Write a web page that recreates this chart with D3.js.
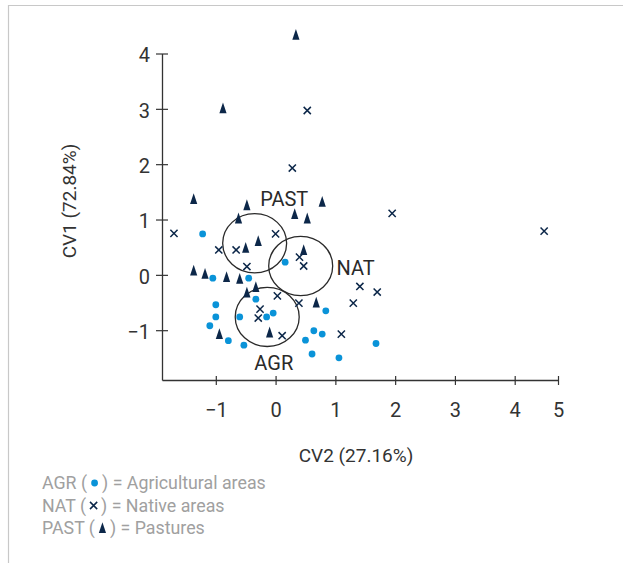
<!DOCTYPE html>
<html>
<head>
<meta charset="utf-8">
<script src="https://cdn.jsdelivr.net/npm/d3@7"></script>
<style>
  body { margin: 0; background: #fff; }
  svg { display: block; font-family: Roboto, "Open Sans", sans-serif; }
</style>
</head>
<body>
<svg id="chart" width="623" height="563"></svg>
<script>
// scores: CV2 on x, CV1 on y
const agrX = [-1.22, 0.16, -1.05, -0.45, -0.33, -1.00, -1.00, -0.60, -0.15, -0.04,
              -1.10, -0.79, -0.53, 0.84, 0.64, 0.78, 0.50, 0.61, 1.06, 1.68];
const agrY = [0.74, 0.23, -0.06, -0.06, -0.44, -0.54, -0.76, -0.76, -0.76, -0.69,
              -0.92, -1.19, -1.27, -0.65, -1.01, -1.07, -1.18, -1.43, -1.50, -1.24];

const natX = [-1.70, -0.95, -0.66, 0.00, -0.48, 0.40, 0.47, 0.03, 0.39, -0.26,
              -0.29, 0.11, 1.10, 1.41, 1.70, 1.30, 1.95, 0.53, 0.28, 4.68];
const natY = [0.75, 0.45, 0.45, 0.74, 0.15, 0.32, 0.16, -0.38, -0.51, -0.62,
              -0.78, -1.10, -1.07, -0.21, -0.31, -0.51, 1.11, 2.97, 1.93, 0.79];

const pastX = [-1.37, -0.48, 0.78, 0.32, 0.53, -0.62, -0.29, -0.50, 0.47, -1.37,
               -1.18, -0.82, -0.60, -0.33, -0.48, 0.68, -0.10, -0.94, 0.34, -0.88];
const pastY = [1.37, 1.26, 1.32, 1.10, 1.02, 1.02, 0.61, 0.49, 0.45, 0.08,
               0.02, -0.04, -0.07, -0.22, -0.32, -0.50, -1.04, -1.07, 4.34, 3.01];

const xTicks = [-1, 0, 1, 2, 3, 4, 5];
const yTicks = [-1, 0, 1, 2, 3, 4];

// group centroid circles
const groups = ["PAST", "NAT", "AGR"];
const groupCx = [-0.35, 0.42, -0.14];
const groupCy = [0.57, 0.16, -0.76];
const groupR = 0.535;

const legendKeys = ["AGR", "NAT", "PAST"];
const legendNames = ["Agricultural areas", "Native areas", "Pastures"];

const blue = "#0a93d8", navy = "#0c2749";

const svg = d3.select("#chart");

// frame lines
svg.append("line").attr("x1", 8).attr("y1", 5.5).attr("x2", 623).attr("y2", 5.5)
   .attr("stroke", "#c8c8c8").attr("stroke-width", 1.2);
svg.append("line").attr("x1", 8.5).attr("y1", 5).attr("x2", 8.5).attr("y2", 563)
   .attr("stroke", "#c8c8c8").attr("stroke-width", 1.2);

// the last interval on the original x axis is shorter, hence the piecewise scale
const x = d3.scaleLinear().domain([-1.9, 4, 5]).range([162, 514.7, 558]);
const y = d3.scaleLinear().domain([-1.9, 4]).range([380, 53.5]);

const fmt = d3.format("d");
const gx = svg.append("g").attr("transform", "translate(0,380)")
    .call(d3.axisBottom(x).tickValues(xTicks).tickFormat(fmt).tickSizeOuter(0));
const gy = svg.append("g").attr("transform", "translate(162,0)")
    .call(d3.axisLeft(y).tickValues(yTicks).tickFormat(fmt).tickSizeOuter(0));

[gx, gy].forEach(g => {
    g.attr("font-size", null).attr("font-family", null);
    g.select(".domain").attr("stroke", "#333").attr("stroke-width", 1.3);
    g.selectAll(".tick line").attr("stroke", "#333").attr("stroke-width", 1.2);
    g.selectAll(".tick text").attr("fill", "#333").style("font-size", "20px");
});
gx.selectAll(".tick line").attr("y1", -4).attr("y2", 5);
gx.selectAll(".tick text").attr("y", 23);
gy.selectAll(".tick line").attr("x1", -6).attr("x2", 6);
gy.selectAll(".tick text").attr("x", -12).attr("dy", "0.42em");

// axis titles
svg.append("text").attr("x", 356).attr("y", 462).attr("text-anchor", "middle")
   .attr("fill", "#333").style("font-size", "19px").text("CV2 (27.16%)");
svg.append("text").attr("transform", "translate(76,201) rotate(-90)")
   .attr("text-anchor", "middle").attr("fill", "#333").style("font-size", "19px")
   .text("CV1 (72.84%)");

// marker shapes
const crossPath = "M-3.6,-3.6L3.6,3.6M-3.6,3.6L3.6,-3.6";
const triPath = "M0,-5.8L3.6,5L-3.6,5Z";

function drawDot(g, px, py) {
    g.append("circle").attr("cx", px).attr("cy", py).attr("r", 3.4).attr("fill", blue);
}
function drawCross(g, px, py) {
    g.append("path").attr("d", crossPath).attr("transform", `translate(${px},${py})`)
     .attr("fill", "none").attr("stroke", navy).attr("stroke-width", 1.5);
}
function drawTri(g, px, py) {
    g.append("path").attr("d", triPath).attr("transform", `translate(${px},${py})`)
     .attr("fill", navy);
}

// group circles
const gc = svg.append("g");
groups.forEach((name, k) => {
    gc.append("ellipse")
      .attr("cx", x(groupCx[k])).attr("cy", y(groupCy[k]))
      .attr("rx", x(groupCx[k] + groupR) - x(groupCx[k]))
      .attr("ry", y(groupCy[k]) - y(groupCy[k] + groupR))
      .attr("fill", "none").attr("stroke", "#2a2a2a").attr("stroke-width", 1.3);
});

// points
const gp = svg.append("g");
agrX.forEach((v, k) => drawDot(gp, x(v), y(agrY[k])));
natX.forEach((v, k) => drawCross(gp, x(v), y(natY[k])));
pastX.forEach((v, k) => drawTri(gp, x(v), y(pastY[k])));

// group labels
const lab = svg.append("g").attr("fill", "#2a2a2a").style("font-size", "20px");
lab.append("text").attr("x", x(0.145)).attr("y", y(1.245)).attr("text-anchor", "middle").text("PAST");
lab.append("text").attr("x", x(1.02)).attr("y", y(0.0)).attr("text-anchor", "start").text("NAT");
lab.append("text").attr("x", x(-0.03)).attr("y", y(-1.72)).attr("text-anchor", "middle").text("AGR");

// legend
const drawers = [drawDot, drawCross, drawTri];
legendKeys.forEach((key, k) => {
    const by = 489 + k * 22.5;
    const t = svg.append("text").attr("x", 42).attr("y", by)
        .attr("fill", "#a0a0a0").style("font-size", "17.8px");
    const pre = t.append("tspan").text(key + " (");
    t.append("tspan").attr("dx", 15).text(") = " + legendNames[k]);
    const w = pre.node().getComputedTextLength();
    drawers[k](svg, 42 + w + 7.5, by - 6);
});
</script>
</body>
</html>
